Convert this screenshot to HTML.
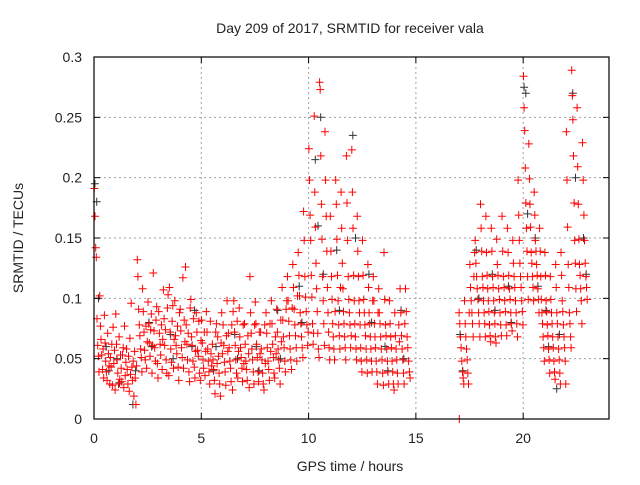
<!DOCTYPE html>
<html><head><meta charset="utf-8"><style>
html,body{margin:0;padding:0;background:#fff;}
svg text{font-family:"Liberation Sans",sans-serif;fill:#222;}
</style></head><body>
<svg id="chart" width="640" height="480" viewBox="0 0 640 480" xmlns="http://www.w3.org/2000/svg">
<rect width="640" height="480" fill="#fff"/>
<g id="grid"></g>
<g id="black"></g>
<g id="red"></g>
<g id="axes"></g>
<text x="350" y="33" font-size="14" text-anchor="middle">Day 209 of 2017, SRMTID for receiver vala</text>
<text x="350" y="471" font-size="14" text-anchor="middle">GPS time / hours</text>
<text x="0" y="0" font-size="14" text-anchor="middle" transform="translate(23,238) rotate(-90)">SRMTID / TECUs</text>
</svg>
<script>
const xTicks=[0,5,10,15,20];
const yTicks=[0,0.05,0.1,0.15,0.2,0.25,0.3];
const yTickLabels=["0","0.05","0.1","0.15","0.2","0.25","0.3"];
const binWidth=0.25;
// red series: [bin start hour, values in TECU*100]
const redBins=[
[0,[19.1,16.8,14.2,13.4,8.3,6.1,5.2,3.9]],[0.25,[10.2,7.7,6.6,5.3,4.1,5.8,3.4,8.6]],[0.5,[6.3,4.8,3.9,3.2,7.1,5.4,4.4,2.9]],[0.75,[5.1,4.3,6.2,2.8,7.6,4.6,5.7,2.4]],
[1,[8.7,6.2,4.9,3.8,2.9,6.8,3.3,5.3]],[1.25,[4.2,3.1,5.3,5.9,2.6,7.7,3.6,4.7]],[1.5,[5.8,4.1,2.9,5.2,2.3,6.7,3.7,9.6]],[1.75,[4.3,3.2,4.8,1.9,5.6,3.4,1.2,4.4]],
[2,[13.2,11.8,9.1,7.8,6.9,5.8,5.1,3.9]],[2.25,[10.8,8.9,7.2,5.7,4.9,7.7,4.2,6.4]],[2.5,[9.7,7.9,6.3,5.2,7.4,8.7,3.8,6.1]],[2.75,[12.1,7.3,5.9,4.8,8.2,9.3,4.6,3.4]],
[3,[8.9,7.1,6.2,5.3,7.8,4.1,6.6,10.7]],[3.25,[8.3,6.1,7.4,4.9,3.8,9.2,10.3,3.6]],[3.5,[10.9,7.2,5.8,4.7,8.1,9.4,4.2,6.6]],[3.75,[9.8,6.9,6.1,5.4,7.7,4.3,3.2,8.8]],
[4,[9.1,7.3,5.9,5.1,11.7,4.2,8.2,6.4]],[4.25,[12.6,7.8,6.2,4.9,7.1,3.9,3.1,9.2]],[4.5,[9.9,6.8,6.1,4.8,8.3,4.3,3.4,5.6]],[4.75,[8.8,7.2,5.7,5.2,8.1,3.8,3.2,6.5]],
[5,[8.2,6.3,4.9,4.2,7.2,3.6,5.6,8.9]],[5.25,[7.2,5.8,4.8,3.9,2.9,8.1,5.4,4.4]],[5.5,[6.2,4.9,4.1,3.2,2.1,7.2,7.9,4.6]],[5.75,[6.8,5.2,3.8,2.9,1.9,6.3,8.8,5.4]],
[6,[7.8,6.1,4.7,3.9,2.8,6.9,9.8,5.6]],[6.25,[7.1,5.9,4.8,4.2,3.1,7.8,2.4,8.9]],[6.5,[9.8,7.2,6.1,4.9,3.8,8.1,3.4,5.6]],[6.75,[9.2,6.8,5.9,5.1,4.2,3.1,7.8,4.6]],
[7,[7.9,6.2,4.8,4.1,3.2,6.9,5.4,2.6]],[7.25,[11.8,8.8,7.1,5.8,4.9,3.9,2.9,7.8]],[7.5,[9.7,7.9,6.2,5.1,3.9,3.1,7.2,5.4]],[7.75,[7.2,5.8,4.9,3.8,2.9,2.4,7.8,4.6]],
[8,[8.8,7.1,5.9,4.8,4.1,3.2,7.9,5.6]],[8.25,[9.8,7.9,6.2,5.1,3.8,3.4,6.8,5.4]],[8.5,[9.1,7.2,5.8,4.9,4.2,2.9,8.2,6.4]],[8.75,[10.9,8.2,6.8,5.9,4.8,3.9,9.1,9.8]],
[9,[11.8,9.8,8.1,6.9,5.8,4.9,4.1,9.2]],[9.25,[12.8,10.9,9.1,7.8,6.9,5.9,4.8,10.2]],[9.5,[13.8,11.9,10.2,8.8,7.9,6.8,5.9,5.1]],[9.75,[17.2,14.8,11.8,10.1,8.9,7.8,6.1,7.2]],
[10,[22.4,19.8,16.9,14.8,11.9,10.1,7.9,6.2,7.1]],[10.25,[25.1,18.8,15.9,12.9,10.8,8.9,7.1,5.8,5.1]],[10.5,[27.9,27.3,21.8,17.8,14.9,11.8,9.8,7.9,6.1]],[10.75,[23.8,19.8,16.8,13.9,10.9,8.8,7.2,5.9,4.9]],
[11,[16.8,13.9,11.8,9.9,7.9,6.8,5.8,4.9,8.9]],[11.25,[19.8,17.8,14.9,11.9,9.8,7.8,6.9,5.8,10.9]],[11.5,[18.8,15.8,12.9,10.8,8.9,7.9,6.8,5.9,4.9]],[11.75,[21.8,17.9,14.8,11.8,9.9,8.8,7.8,5.9,6.9]],
[12,[22.3,18.8,15.8,11.9,9.8,7.9,6.8,5.8,4.9]],[12.25,[16.8,13.9,11.8,9.8,8.8,7.8,5.9,4.8,3.9]],[12.5,[14.8,11.9,9.9,8.8,7.8,6.9,5.8,4.9,3.8]],[12.75,[12.8,10.9,8.8,7.9,6.8,5.8,4.8,3.9,9.8]],
[13,[11.8,9.8,7.9,6.8,5.9,4.8,3.9,2.9,8.8]],[13.25,[10.8,8.8,7.9,6.8,5.8,4.9,3.8,2.8]],[13.5,[13.8,9.9,7.8,6.9,5.8,4.8,3.9,2.9]],[13.75,[9.8,7.9,6.8,5.9,4.8,3.9,2.9,2.4]],
[14,[8.8,6.9,5.8,4.9,3.8,2.9,7.8,6.4]],[14.25,[10.8,8.8,6.9,5.8,4.9,3.8,2.9,7.9]],[14.5,[10.8,8.9,6.8,5.9,4.8,3.9,3.4]],
[16.9,[0]],
[17,[8.8,7.9,6.8,5.9,4.8,3.9,3.4,2.9]],[17.25,[9.8,7.9,6.8,5.8,4.9,3.8,2.9,8.8]],[17.5,[12.8,10.9,9.8,8.8,7.9,6.8,11.8,13.8]],[17.75,[14.8,12.9,11.8,10.8,9.9,8.8,7.9,6.8]],
[18,[17.8,15.8,13.9,11.8,10.9,9.8,8.8,7.9,6.8]],[18.25,[16.8,13.8,11.9,10.8,9.8,8.9,7.8,6.9,6.4]],[18.5,[15.8,13.9,11.8,10.9,9.8,8.8,7.9,6.8,6.3]],[18.75,[14.9,12.8,11.9,10.8,9.9,8.8,7.8,6.9]],
[19,[16.8,13.9,11.8,10.9,9.8,8.9,7.8,6.9]],[19.25,[15.8,13.8,11.9,10.8,9.9,8.8,7.9,7.3]],[19.5,[14.8,12.9,11.8,10.9,9.8,8.8,7.9,6.8]],[19.75,[19.8,16.9,14.8,12.9,11.8,10.9,9.8,8.9,7.8]],
[20,[28.4,25.8,23.9,20.8,17.9,15.8,13.9,11.8,9.9]],[20.25,[22.8,19.9,17.8,15.9,13.8,12.9,11.8,10.9,9.8]],[20.5,[18.8,16.9,14.8,13.9,12.8,11.9,10.8,9.9,8.8]],[20.75,[15.8,13.9,11.8,9.9,8.8,7.9,6.8,5.9,4.8]],
[21,[13.8,11.9,9.8,8.9,7.8,6.9,5.8,4.9,3.8]],[21.25,[11.8,9.9,8.8,7.9,6.8,5.9,4.8,3.9,3.3]],[21.5,[12.8,10.9,8.8,7.9,6.8,5.8,4.9,3.8,2.9]],[21.75,[13.8,11.9,9.8,8.9,7.8,6.8,5.9,4.8,2.9]],
[22,[23.8,19.8,15.9,12.8,10.9,8.8,7.9,6.8,5.9]],[22.25,[28.9,26.8,24.8,21.8,17.9,14.8,12.9,10.8,8.9]],[22.5,[25.8,20.9,17.8,14.9,12.8,11.9,10.8,9.8,7.9]],[22.75,[22.9,19.8,16.9,14.8,12.9,11.8,10.9,9.9]]
];
// black series: [bin start hour, values in TECU*100]
const blackBins=[
[0,[19.5,18,10]],[0.5,[6,4]],[1,[5,3]],[1.75,[1.2,4]],[2.5,[8,6]],[3.5,[7,5]],[4.5,[6,9]],[5.5,[4,6]],[6.5,[7,5]],
[7.5,[6,4]],[8.5,[9,5]],[9.5,[11,8]],[10.25,[21.5,16]],[10.5,[25,12]],[11.25,[14,9]],[12,[23.5,15]],[12.75,[12,8]],
[13.5,[6,4]],[14.25,[9,5]],[17,[7,4]],[17.75,[14,10]],[18.5,[12,9]],[19.25,[11,8]],[20,[27.5,27,17]],[20.5,[15,11]],
[21,[9,6]],[21.5,[2.5,7]],[22.25,[27,20]],[22.75,[15,12]]
];
const X0=94,X1=609,Y0=419,Y1=57,XMAX=24,YMAX=0.3;
function xs(h){return X0+(X1-X0)*h/XMAX;}
function ys(v){return Y0-(Y0-Y1)*v/YMAX;}
const NS="http://www.w3.org/2000/svg";
function mk(tag,attrs,parent){const e=document.createElementNS(NS,tag);for(const k in attrs)e.setAttribute(k,attrs[k]);parent.appendChild(e);return e;}
const grid=document.getElementById('grid'),axes=document.getElementById('axes');
xTicks.forEach(t=>{
  const x=xs(t);
  if(t>0){const g=mk('line',{x1:x,x2:x,y1:Y0,y2:Y1,stroke:'#a0a0a0','stroke-dasharray':'2,3','stroke-width':1},grid);
  
  }
  mk('line',{x1:x,x2:x,y1:Y0,y2:Y0-6,stroke:'#000'},axes);
  mk('line',{x1:x,x2:x,y1:Y1,y2:Y1+6,stroke:'#000'},axes);
  const tx=mk('text',{x:x,y:Y0+24,'font-size':14,'text-anchor':'middle'},axes);tx.textContent=t;
  
  
});
yTicks.forEach((t,i)=>{
  const y=ys(t);
  if(t>0&&t<YMAX){const g=mk('line',{x1:X0,x2:X1,y1:y,y2:y,stroke:'#a0a0a0','stroke-dasharray':'2,3','stroke-width':1},grid);
  
  }
  mk('line',{x1:X0,x2:X0+6,y1:y,y2:y,stroke:'#000'},axes);
  mk('line',{x1:X1,x2:X1-6,y1:y,y2:y,stroke:'#000'},axes);
  const tx=mk('text',{x:X0-12,y:y+5,'font-size':14,'text-anchor':'end'},axes);tx.textContent=yTickLabels[i];
  
  
});
mk('rect',{x:X0,y:Y1,width:X1-X0,height:Y0-Y1,fill:'none',stroke:'#000','stroke-width':1.2},axes);
function plot(bins,gid,color,name){
  const g=document.getElementById(gid);let d='';
  bins.forEach(b=>{const n=b[1].length;b[1].forEach((v,i)=>{
    const x=xs(b[0]+binWidth*(i+0.5)/n),y=ys(v/100);
    d+=`M${(x-4).toFixed(1)} ${y.toFixed(1)}h8M${x.toFixed(1)} ${(y-4).toFixed(1)}v8`;});});
  const p=mk('path',{d:d,stroke:color,'stroke-width':1,fill:'none'},g);
  
  
}
plot(blackBins,'black','#333','black-points');
plot(redBins,'red','#ff0000','red-points');
</script>
</body></html>
